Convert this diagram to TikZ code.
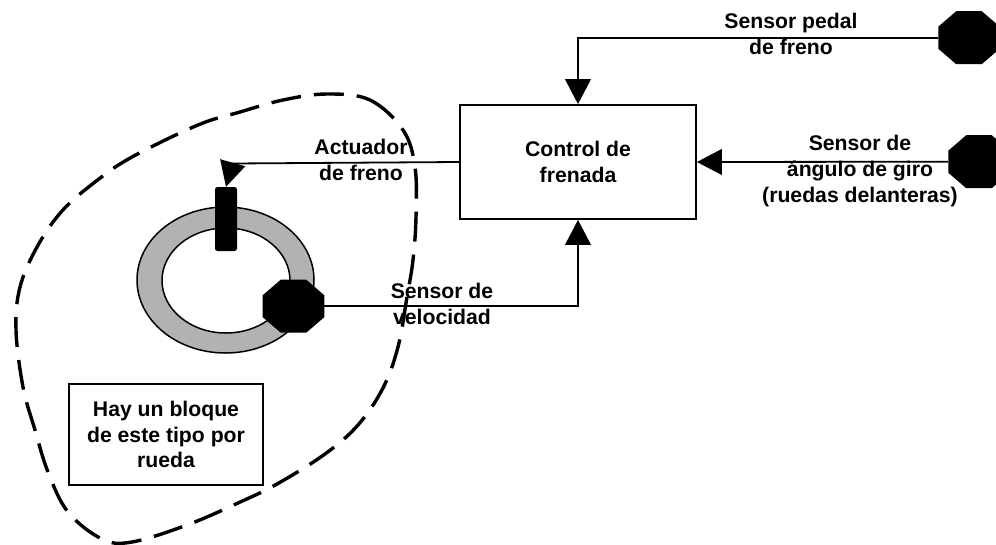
\documentclass[tikz,border=0pt]{standalone}
\usepackage{fontspec}
\setmainfont{Liberation Sans}
\usetikzlibrary{arrows.meta,shapes.geometric}

\tikzset{
  rotulo/.style={align=center,inner sep=0pt,font=\fontsize{21.2}{25.7}\selectfont\bfseries},
  caja/.style={rotulo,draw,line width=1.8pt},
  sensor/.style={regular polygon,regular polygon sides=8,minimum size=57.4pt,inner sep=0pt,
    fill=black,transform shape},
  flecha/.style={line width=1.8pt,-{Triangle[length=25pt,width=25.7pt]}}
}

\begin{document}
\begin{tikzpicture}[x=1pt,y=-1pt]
\useasboundingbox (0,0) rectangle (996,544);

% Rueda: corona gris
\filldraw[fill=black!30,line width=1.5pt,even odd rule]
  (225.5,280) ellipse [x radius=88.5,y radius=73]
  (226,280.5) ellipse [x radius=64,y radius=52.5];

% Bloques
\node[caja,minimum width=236pt,minimum height=114pt] (control) at (578,162) {Control de\\frenada};
\node[caja,minimum width=194.5pt,minimum height=101pt] (nota) at (166,434.5) {Hay un bloque\\de este tipo por\\rueda};
\node[fill=black,rounded corners=2.5pt,minimum width=22pt,minimum height=64pt,inner sep=0pt] (actuador) at (226,219) {};

% Sensores
\node[sensor,xscale=1.16] (pedal) at (969,37.7) {};
\node[sensor,xscale=1.16] (angulo) at (979,161.7) {};
\node[sensor,xscale=1.16] (velocidad) at (293.5,306.2) {};

% Conexiones
\coordinate (codo) at (232.5,163.5);
\draw[flecha] (pedal.west) -| (control.north);
\draw[flecha] (angulo.west) -- (control.east);
\draw[flecha] (velocidad.east) -| (control.south);
\draw[flecha] (control.west) -- (codo) -- (actuador.north);

% Rotulos
\node[rotulo] (rpedal) at (791,34) {Sensor pedal\\de freno};
\node[rotulo] (rangulo) at (860,171) {Sensor de\\ángulo de giro\\(ruedas delanteras)};
\node[rotulo] (ractuador) at (361,160) {Actuador\\de freno};
\node[rotulo] (rvelocidad) at (442,304) {Sensor de\\velocidad};

% Limite del bloque de una rueda
\draw[line width=3.4pt,dash pattern=on 30pt off 13pt] plot[smooth cycle,tension=0.6] coordinates {
  (327,94) (370,100) (403,130) (415,167) (416,217) (413,260) (407,297) (398,347)
  (383,388) (358,425) (325,454) (277,484) (238,503) (187,525) (132,542) (102,539)
  (68,512) (48,472) (35,430) (23,387) (16,330) (20,287) (37,247) (62,211) (95,182)
  (132,157) (198,125) (240,112) (283,100)};
\end{tikzpicture}
\end{document}
